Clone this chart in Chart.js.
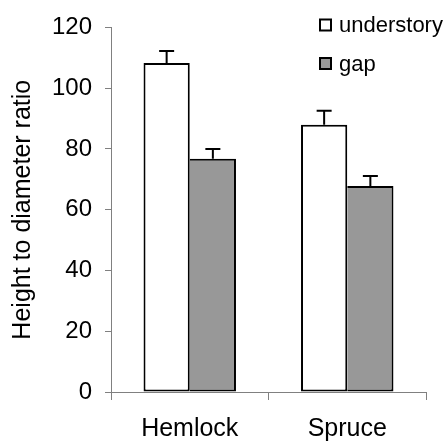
<!DOCTYPE html>
<html>
<head>
<meta charset="utf-8">
<script src="https://cdn.jsdelivr.net/npm/chart.js@4"></script>
<style>
  html, body { margin: 0; padding: 0; background: #fff; }
  #wrap { width: 447px; height: 444px; position: relative; }
</style>
</head>
<body>
<div id="wrap"><canvas id="chart"></canvas></div>
<script>
// Data
const categories = ["Hemlock", "Spruce"];
const seriesNames = ["understory", "gap"];
const understory = [108.3, 88.0];
const gap = [76.8, 67.8];
const understoryErr = [3.9, 4.6];
const gapErr = [3.2, 3.3];
const yTicks = [0, 20, 40, 60, 80, 100, 120];

const FONT = "'Liberation Sans', Arial, sans-serif";
const AXIS = "#808080";
const GAP_FILL = "#989898";

// Upward-only error bars with a cap
const errorBars = {
    id: "errorBars",
    afterDatasetsDraw(chart) {
        const { ctx } = chart;
        const y = chart.scales.y;
        chart.data.datasets.forEach((ds, i) => {
            const meta = chart.getDatasetMeta(i);
            meta.data.forEach((bar, j) => {
                const top = y.getPixelForValue(ds.data[j] + ds.err[j]);
                ctx.save();
                ctx.strokeStyle = "#000";
                ctx.lineWidth = 2;
                ctx.beginPath();
                ctx.moveTo(bar.x, bar.y);
                ctx.lineTo(bar.x, top);
                ctx.moveTo(bar.x - 7.5, top);
                ctx.lineTo(bar.x + 7.5, top);
                ctx.stroke();
                ctx.restore();
            });
        });
    },
};

// Legend stacked in the top-right corner
const boxLegend = {
    id: "boxLegend",
    afterDraw(chart) {
        const { ctx } = chart;
        const rows = [
            { label: seriesNames[0], fill: "#fff", y: 25 },
            { label: seriesNames[1], fill: GAP_FILL, y: 63.5 },
        ];
        ctx.save();
        rows.forEach((r) => {
            ctx.fillStyle = r.fill;
            ctx.fillRect(319, r.y - 6.5, 13, 13);
            ctx.strokeStyle = "#000";
            ctx.lineWidth = 2;
            ctx.strokeRect(320, r.y - 5.5, 11, 11);
            ctx.fillStyle = "#000";
            ctx.font = "22px " + FONT;
            ctx.textBaseline = "middle";
            ctx.fillText(r.label, 339, r.y + 1);
        });
        ctx.restore();
    },
};

new Chart(document.getElementById("chart"), {
    type: "bar",
    data: {
        labels: categories,
        datasets: [
            {
                label: seriesNames[0],
                data: understory,
                err: understoryErr,
                backgroundColor: "#fff",
                borderColor: "#000",
                borderWidth: 2,
                borderSkipped: false,
            },
            {
                label: seriesNames[1],
                data: gap,
                err: gapErr,
                backgroundColor: GAP_FILL,
                borderColor: "#000",
                borderWidth: 2,
                borderSkipped: "left",
            },
        ],
    },
    options: {
        responsive: true,
        maintainAspectRatio: false,
        animation: false,
        categoryPercentage: 0.587,
        barPercentage: 1,
        layout: { padding: { top: 24, right: 21, left: 0, bottom: 0 } },
        plugins: {
            legend: { display: false },
            tooltip: { enabled: false },
        },
        scales: {
            x: {
                afterFit: (s) => { s.height = 52; },
                grid: {
                    drawOnChartArea: false,
                    drawTicks: true,
                    tickLength: 8,
                    color: AXIS,
                    offset: true,
                },
                border: { color: AXIS, width: 1 },
                ticks: {
                    color: "#000",
                    font: { family: FONT, size: 25 },
                    padding: 14,
                },
            },
            y: {
                min: 0,
                max: 120,
                afterFit: (s) => { s.width = 111; },
                afterBuildTicks: (s) => { s.ticks = yTicks.map((v) => ({ value: v })); },
                grid: {
                    drawOnChartArea: false,
                    drawTicks: true,
                    tickLength: 6,
                    color: AXIS,
                },
                border: { color: AXIS, width: 1 },
                ticks: {
                    color: "#000",
                    font: { family: FONT, size: 24 },
                    padding: 13,
                },
                title: {
                    display: true,
                    text: "Height to diameter ratio",
                    color: "#000",
                    font: { family: FONT, size: 25 },
                    padding: { top: 8, bottom: 4 },
                },
            },
        },
    },
    plugins: [errorBars, boxLegend],
});
</script>
</body>
</html>
